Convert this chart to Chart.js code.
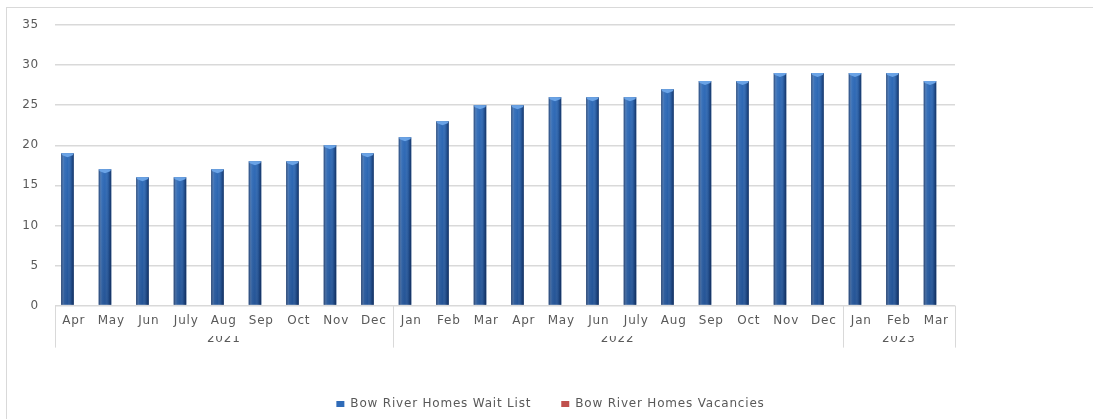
<!DOCTYPE html>
<html>
<head>
<meta charset="utf-8">
<script src="https://cdn.jsdelivr.net/npm/chart.js@4.4.1/dist/chart.umd.min.js"></script>
<style>
  html, body { margin: 0; padding: 0; background: #fff; }
  #frame {
    position: absolute; left: 6px; top: 7px;
    width: 1087px; height: 412px;
    border-left: 1px solid #d9d9d9; border-top: 1px solid #d9d9d9;
  }
</style>
</head>
<body>
<div id="frame"><canvas id="waitChart"></canvas></div>
<script>
const months = ['Apr','May','Jun','July','Aug','Sep','Oct','Nov','Dec',
                'Jan','Feb','Mar','Apr','May','Jun','July','Aug','Sep','Oct','Nov','Dec',
                'Jan','Feb','Mar'];
const years = ['2021', '2022', '2023'];
const yearSizes = [9, 12, 3];
const waitList = [19,17,16,16,17,18,18,20,19, 21,23,25,25,26,26,26,27,28,28,29,29, 29,29,28];
const vacancies = [0,0,0,0,0,0,0,0,0, 0,0,0,0,0,0,0,0,0,0,0,0, 0,0,0];
const yTicks = [0,5,10,15,20,25,30,35];

const grey = '#595959';
const lineGrey = '#d9d9d9';
const font = { family: 'DejaVu Sans', size: 12 };

// group boundaries and centers (in category index units)
const bounds = [-0.5];
const centers = [];
yearSizes.forEach(n => {
  const start = bounds[bounds.length - 1];
  centers.push(start + n / 2);
  bounds.push(start + n);
});

// slightly spaced-out lettering for all chart text
const spacing = {
  id: 'spacing',
  beforeUpdate(chart) { chart.ctx.letterSpacing = '0.8px'; },
  beforeDraw(chart) { chart.ctx.letterSpacing = '0.8px'; }
};

// cylinder-like shading over the wait list bars
const barShade = {
  id: 'barShade',
  afterDatasetDraw(chart, args) {
    if (args.index !== 0) return;
    const ctx = chart.ctx;
    args.meta.data.forEach(el => {
      const p = el.getProps(['x','y','base','width'], true);
      const l = p.x - p.width / 2, r = p.x + p.width / 2;
      ctx.save();
      const v = ctx.createLinearGradient(0, p.y, 0, p.base);
      v.addColorStop(0, 'rgba(10,30,70,0)');
      v.addColorStop(1, 'rgba(10,30,70,0.3)');
      ctx.fillStyle = v;
      ctx.fillRect(l, p.y, p.width, p.base - p.y);
      const g = ctx.createLinearGradient(l, 0, r, 0);
      g.addColorStop(0, 'rgba(10,25,60,0.6)');
      g.addColorStop(0.25, 'rgba(255,255,255,0.06)');
      g.addColorStop(0.5, 'rgba(255,255,255,0)');
      g.addColorStop(0.8, 'rgba(10,25,60,0.2)');
      g.addColorStop(1, 'rgba(10,25,60,0.65)');
      ctx.fillStyle = g;
      ctx.fillRect(l, p.y, p.width, p.base - p.y);
      // light top cap
      ctx.fillStyle = '#6aa3e6';
      ctx.beginPath();
      ctx.moveTo(l, p.y);
      ctx.lineTo(r, p.y);
      ctx.lineTo(r - 1, p.y + 2);
      ctx.lineTo(p.x, p.y + 4);
      ctx.lineTo(l + 1, p.y + 2);
      ctx.closePath();
      ctx.fill();
      ctx.restore();
    });
  }
};

// separators between the year groups under the axis
const groupLines = {
  id: 'groupLines',
  afterDraw(chart) {
    const x = chart.scales.x, ctx = chart.ctx;
    const top = chart.chartArea.bottom, bottom = top + 42;
    ctx.save();
    ctx.strokeStyle = lineGrey;
    ctx.lineWidth = 1;
    bounds.forEach(b => {
      const px = Math.round(x.getPixelForValue(b)) + 0.5;
      ctx.beginPath();
      ctx.moveTo(px, top);
      ctx.lineTo(px, bottom);
      ctx.stroke();
    });
    ctx.restore();
  }
};

new Chart(document.getElementById('waitChart'), {
  type: 'bar',
  data: {
    labels: months,
    datasets: [{
      label: 'Bow River Homes Wait List',
      data: waitList,
      backgroundColor: '#2f6bb8',
      borderWidth: 0,
      categoryPercentage: 0.667,
      barPercentage: 1
    }, {
      label: 'Bow River Homes Vacancies',
      data: vacancies,
      backgroundColor: '#c0504d',
      borderWidth: 0,
      categoryPercentage: 0.667,
      barPercentage: 1
    }]
  },
  options: {
    responsive: true,
    maintainAspectRatio: false,
    animation: false,
    layout: { padding: { top: 17, right: 0, left: 0, bottom: 0 } },
    scales: {
      y: {
        min: 0, max: 35,
        afterBuildTicks: s => { s.ticks = yTicks.map(v => ({ value: v })); },
        afterFit: s => { s.width = 48; },
        border: { display: false },
        grid: { color: lineGrey, lineWidth: 1.5, drawTicks: true, tickLength: 16, tickColor: 'transparent' },
        ticks: { color: grey, font, padding: 0 }
      },
      // empty space right of the plot
      gap: {
        type: 'linear',
        position: 'right',
        afterFit: s => { s.width = 139; },
        border: { display: false },
        grid: { display: false, drawTicks: false },
        ticks: { display: false }
      },
      x: {
        border: { display: false },
        grid: { display: false, drawTicks: false },
        ticks: { color: grey, font, padding: 8, maxRotation: 0, autoSkip: false }
      },
      yr: {
        type: 'linear',
        position: 'bottom',
        offset: false,
        min: -0.5, max: months.length - 0.5,
        afterBuildTicks: s => { s.ticks = centers.map(v => ({ value: v })); },
        afterFit: s => { s.height = 32; },
        border: { display: false },
        grid: { display: false, drawTicks: false, offset: false },
        ticks: {
          color: grey, font, padding: -4, maxRotation: 0, autoSkip: false,
          callback: (v, i) => years[i]
        }
      }
    },
    plugins: {
      legend: {
        position: 'bottom',
        labels: {
          color: grey, font, boxWidth: 8, boxHeight: 6, padding: 30
        }
      },
      tooltip: { enabled: false }
    }
  },
  plugins: [spacing, barShade, groupLines]
});
</script>
</body>
</html>
